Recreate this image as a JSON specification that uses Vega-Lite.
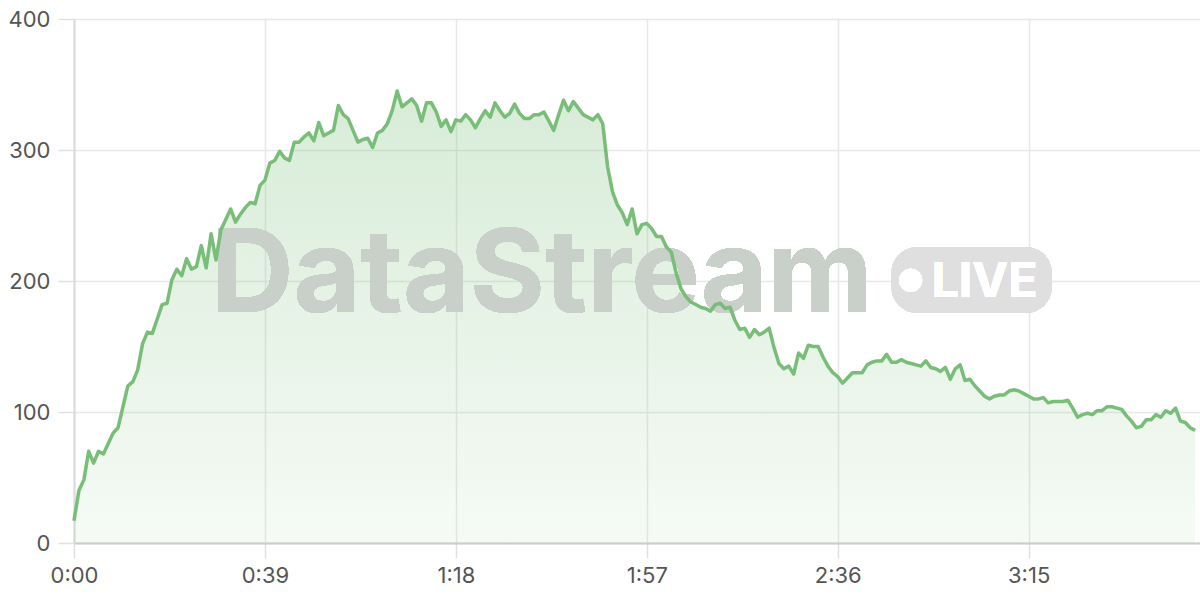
{
  "$schema": "https://vega.github.io/schema/vega-lite/v6.json",
  "width": 1126,
  "height": 524,
  "autosize": {"type": "none"},
  "padding": {"left": 74, "top": 19, "right": 0, "bottom": 57},
  "background": "white",
  "config": {
    "view": {"stroke": null},
    "axis": {
      "labelFont": "Inter",
      "labelFontSize": 22,
      "labelColor": "#555555",
      "labelFlush": false,
      "gridColor": "#e8e8e8",
      "gridWidth": 1.5,
      "tickColor": "#e0e0e0",
      "tickWidth": 1.5,
      "tickSize": 16,
      "domainColor": "#d4d4d4",
      "domainWidth": 2
    }
  },
  "data": {"values": [
    {"t":0,"v":17},{"t":1,"v":40},{"t":2,"v":48},{"t":3,"v":70},{"t":4,"v":61},{"t":5,"v":70},{"t":6,"v":68},{"t":7,"v":76},{"t":8,"v":84},{"t":9,"v":88},
    {"t":10,"v":104},{"t":11,"v":120},{"t":12,"v":123},{"t":13,"v":132},{"t":14,"v":152},{"t":15,"v":161},{"t":16,"v":160},{"t":17,"v":171},{"t":18,"v":182},{"t":19,"v":183},
    {"t":20,"v":201},{"t":21,"v":209},{"t":22,"v":204},{"t":23,"v":217},{"t":24,"v":209},{"t":25,"v":211},{"t":26,"v":227},{"t":27,"v":210},{"t":28,"v":236},{"t":29,"v":216},
    {"t":30,"v":239},{"t":31,"v":247},{"t":32,"v":255},{"t":33,"v":245},{"t":34,"v":251},{"t":35,"v":256},{"t":36,"v":260},{"t":37,"v":259},{"t":38,"v":273},{"t":39,"v":277},
    {"t":40,"v":290},{"t":41,"v":292},{"t":42,"v":299},{"t":43,"v":294},{"t":44,"v":292},{"t":45,"v":306},{"t":46,"v":306},{"t":47,"v":310},{"t":48,"v":313},{"t":49,"v":307},
    {"t":50,"v":321},{"t":51,"v":311},{"t":52,"v":313},{"t":53,"v":315},{"t":54,"v":334},{"t":55,"v":327},{"t":56,"v":324},{"t":57,"v":315},{"t":58,"v":306},{"t":59,"v":308},
    {"t":60,"v":309},{"t":61,"v":302},{"t":62,"v":313},{"t":63,"v":315},{"t":64,"v":320},{"t":65,"v":330},{"t":66,"v":345},{"t":67,"v":333},{"t":68,"v":336},{"t":69,"v":339},
    {"t":70,"v":334},{"t":71,"v":322},{"t":72,"v":336},{"t":73,"v":336},{"t":74,"v":329},{"t":75,"v":318},{"t":76,"v":323},{"t":77,"v":314},{"t":78,"v":323},{"t":79,"v":322},
    {"t":80,"v":327},{"t":81,"v":323},{"t":82,"v":317},{"t":83,"v":324},{"t":84,"v":330},{"t":85,"v":325},{"t":86,"v":336},{"t":87,"v":330},{"t":88,"v":325},{"t":89,"v":328},
    {"t":90,"v":335},{"t":91,"v":328},{"t":92,"v":324},{"t":93,"v":324},{"t":94,"v":327},{"t":95,"v":327},{"t":96,"v":329},{"t":97,"v":322},{"t":98,"v":315},{"t":99,"v":327},
    {"t":100,"v":338},{"t":101,"v":330},{"t":102,"v":337},{"t":103,"v":332},{"t":104,"v":327},{"t":105,"v":325},{"t":106,"v":323},{"t":107,"v":327},{"t":108,"v":320},{"t":109,"v":287},
    {"t":110,"v":268},{"t":111,"v":258},{"t":112,"v":252},{"t":113,"v":243},{"t":114,"v":255},{"t":115,"v":236},{"t":116,"v":243},{"t":117,"v":244},{"t":118,"v":240},{"t":119,"v":234},
    {"t":120,"v":234},{"t":121,"v":226},{"t":122,"v":222},{"t":123,"v":206},{"t":124,"v":194},{"t":125,"v":188},{"t":126,"v":184},{"t":127,"v":182},{"t":128,"v":180},{"t":129,"v":179},
    {"t":130,"v":177},{"t":131,"v":182},{"t":132,"v":183},{"t":133,"v":179},{"t":134,"v":180},{"t":135,"v":170},{"t":136,"v":163},{"t":137,"v":164},{"t":138,"v":157},{"t":139,"v":163},
    {"t":140,"v":159},{"t":141,"v":161},{"t":142,"v":164},{"t":143,"v":149},{"t":144,"v":137},{"t":145,"v":133},{"t":146,"v":135},{"t":147,"v":129},{"t":148,"v":145},{"t":149,"v":141},
    {"t":150,"v":151},{"t":151,"v":150},{"t":152,"v":150},{"t":153,"v":142},{"t":154,"v":135},{"t":155,"v":130},{"t":156,"v":127},{"t":157,"v":122},{"t":158,"v":126},{"t":159,"v":130},
    {"t":160,"v":130},{"t":161,"v":130},{"t":162,"v":136},{"t":163,"v":138},{"t":164,"v":139},{"t":165,"v":139},{"t":166,"v":144},{"t":167,"v":138},{"t":168,"v":138},{"t":169,"v":140},
    {"t":170,"v":138},{"t":171,"v":137},{"t":172,"v":136},{"t":173,"v":135},{"t":174,"v":139},{"t":175,"v":134},{"t":176,"v":133},{"t":177,"v":131},{"t":178,"v":134},{"t":179,"v":125},
    {"t":180,"v":133},{"t":181,"v":136},{"t":182,"v":124},{"t":183,"v":125},{"t":184,"v":120},{"t":185,"v":116},{"t":186,"v":112},{"t":187,"v":110},{"t":188,"v":112},{"t":189,"v":113},
    {"t":190,"v":113},{"t":191,"v":116},{"t":192,"v":117},{"t":193,"v":116},{"t":194,"v":114},{"t":195,"v":112},{"t":196,"v":110},{"t":197,"v":110},{"t":198,"v":111},{"t":199,"v":107},
    {"t":200,"v":108},{"t":201,"v":108},{"t":202,"v":108},{"t":203,"v":109},{"t":204,"v":103},{"t":205,"v":96},{"t":206,"v":98},{"t":207,"v":99},{"t":208,"v":98},{"t":209,"v":101},
    {"t":210,"v":101},{"t":211,"v":104},{"t":212,"v":104},{"t":213,"v":103},{"t":214,"v":102},{"t":215,"v":97},{"t":216,"v":93},{"t":217,"v":88},{"t":218,"v":89},{"t":219,"v":94},
    {"t":220,"v":94},{"t":221,"v":98},{"t":222,"v":96},{"t":223,"v":101},{"t":224,"v":99},{"t":225,"v":103},{"t":226,"v":93},{"t":227,"v":92},{"t":228,"v":88},{"t":229,"v":86}
  ]},
  "layer": [
    {
      "mark": {
        "type": "area",
        "color": {
          "gradient": "linear",
          "x1": 0, "y1": 0, "x2": 0, "y2": 1,
          "stops": [
            {"offset": 0, "color": "rgba(124,191,124,0.30)"},
            {"offset": 1, "color": "rgba(124,191,124,0.07)"}
          ]
        }
      },
      "encoding": {
        "x": {
          "field": "t", "type": "quantitative",
          "scale": {"domain": [0, 230], "nice": false, "zero": false},
          "axis": {
            "title": null,
            "values": [0, 39, 78, 117, 156, 195],
            "labelExpr": "floor(datum.value/60) + ':' + (datum.value % 60 < 10 ? '0' : '') + (datum.value % 60)",
            "labelPadding": 7,
            "tickSize": 15,
            "domainColor": "#cccccc"
          }
        },
        "y": {
          "field": "v", "type": "quantitative",
          "scale": {"domain": [0, 400], "nice": false},
          "axis": {
            "title": null,
            "values": [0, 100, 200, 300, 400],
            "labelPadding": 8,
            "domainColor": "#d9d9d9"
          }
        }
      }
    },
    {
      "mark": {
        "type": "text",
        "text": "DataStream",
        "font": "Inter",
        "fontWeight": "bold",
        "fontSize": 115,
        "letterSpacing": -3,
        "align": "center",
        "baseline": "alphabetic",
        "color": "#c9cfc9"
      },
      "encoding": {
        "x": {"datum": 95.5, "type": "quantitative"},
        "y": {"datum": 176, "type": "quantitative"}
      }
    },
    {
      "mark": {
        "type": "rect",
        "cornerRadius": 26,
        "color": "#dfdfdf"
      },
      "encoding": {
        "x": {"datum": 167, "type": "quantitative"},
        "x2": {"datum": 199.7},
        "y": {"datum": 226, "type": "quantitative"},
        "y2": {"datum": 175.6}
      }
    },
    {
      "mark": {"type": "point", "filled": true, "size": 530, "color": "white", "opacity": 1},
      "encoding": {
        "x": {"datum": 170.9, "type": "quantitative"},
        "y": {"datum": 200.5, "type": "quantitative"}
      }
    },
    {
      "mark": {
        "type": "text",
        "text": "LIVE",
        "font": "Inter",
        "fontWeight": "bold",
        "fontSize": 48,
        "align": "left",
        "baseline": "alphabetic",
        "color": "white"
      },
      "encoding": {
        "x": {"datum": 175.2, "type": "quantitative"},
        "y": {"datum": 187.5, "type": "quantitative"}
      }
    },
    {
      "mark": {"type": "line", "color": "#78bd78", "strokeWidth": 3.5, "strokeJoin": "round"},
      "encoding": {
        "x": {"field": "t", "type": "quantitative"},
        "y": {"field": "v", "type": "quantitative"}
      }
    }
  ]
}
